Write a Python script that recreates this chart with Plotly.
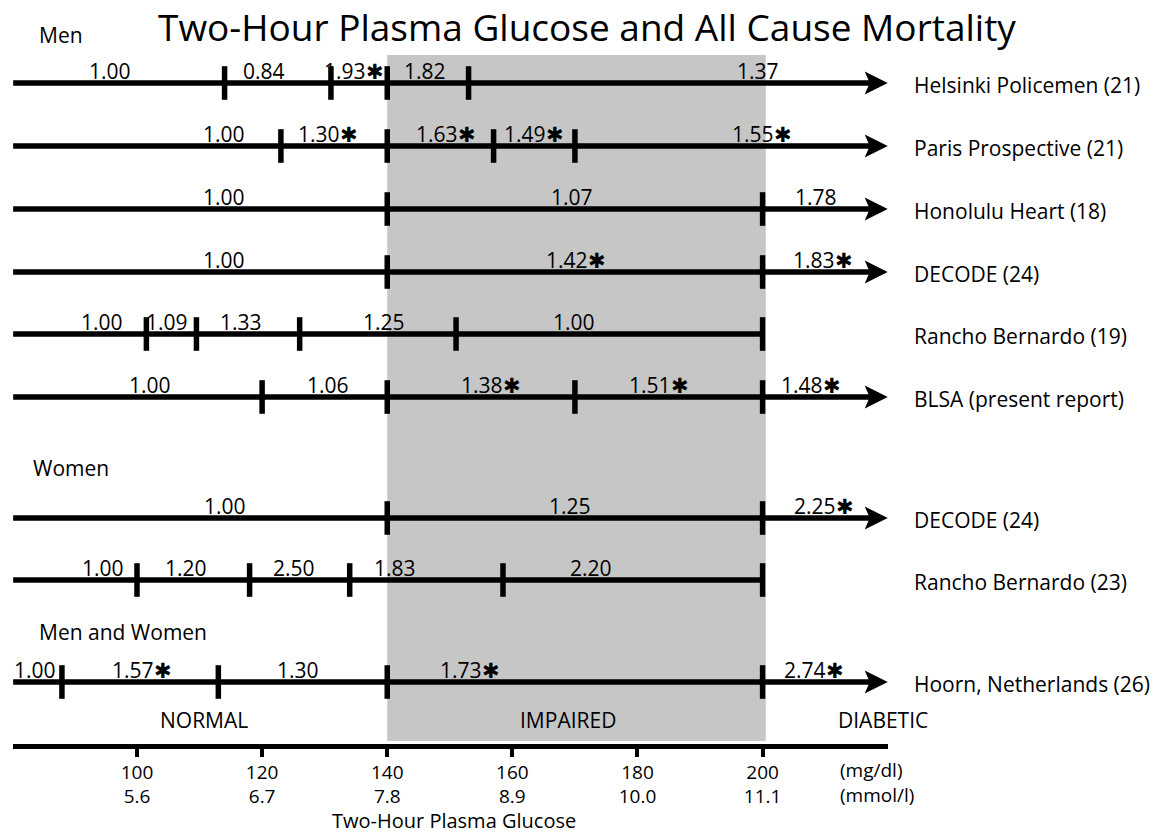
import plotly.graph_objects as go

# ---------------- data ----------------
studies = ["Helsinki Policemen (21)", "Paris Prospective (21)", "Honolulu Heart (18)",
           "DECODE (24)", "Rancho Bernardo (19)", "BLSA (present report)",
           "DECODE (24)", "Rancho Bernardo (23)", "Hoorn, Netherlands (26)"]

# cut points (mg/dl) between glucose categories
cuts_helsinki = [114, 131, 140, 153]
cuts_paris = [123, 140, 157, 170]
cuts_honolulu = [140, 200]
cuts_decode_m = [140, 200]
cuts_rancho_m = [101.5, 109.5, 126, 151, 200]
cuts_blsa = [120, 140, 170, 200]
cuts_decode_w = [140, 200]
cuts_rancho_w = [100, 118, 134, 158.5, 200]
cuts_hoorn = [88, 113, 140, 200]

# relative risks (asterisk = significant)
rr_helsinki = ["1.00", "0.84", "1.93*", "1.82", "1.37"]
rr_paris = ["1.00", "1.30*", "1.63*", "1.49*", "1.55*"]
rr_honolulu = ["1.00", "1.07", "1.78"]
rr_decode_m = ["1.00", "1.42*", "1.83*"]
rr_rancho_m = ["1.00", "1.09", "1.33", "1.25", "1.00"]
rr_blsa = ["1.00", "1.06", "1.38*", "1.51*", "1.48*"]
rr_decode_w = ["1.00", "1.25", "2.25*"]
rr_rancho_w = ["1.00", "1.20", "2.50", "1.83", "2.20"]
rr_hoorn = ["1.00", "1.57*", "1.30", "1.73*", "2.74*"]

# open-ended upper category (arrow) or closed at last cut point
open_ended = [True, True, True, True, False, True, True, False, True]

# glucose position (mg/dl) at which each risk value is written
lab_helsinki = [95.7, 120.3, 134.7, 146.0, 199.3]
lab_paris = [113.9, 130.5, 149.4, 163.5, 199.9]
lab_honolulu = [113.9, 169.5, 208.5]
lab_decode_m = [113.9, 170.1, 209.7]
lab_rancho_m = [94.4, 104.8, 116.6, 139.5, 169.9]
lab_blsa = [102.1, 130.5, 156.6, 183.4, 207.7]
lab_decode_w = [114.1, 169.2, 209.8]
lab_rancho_w = [94.6, 107.8, 125.1, 141.2, 172.6]
lab_hoorn = [83.7, 100.8, 125.7, 153.2, 208.2]

# axis ticks
tick_mgdl = [100, 120, 140, 160, 180, 200]
tick_mmol = ["5.6", "6.7", "7.8", "8.9", "10.0", "11.1"]
impaired_range = [140, 200.5]
categories = ["NORMAL", "IMPAIRED", "DIABETIC"]
category_pos = [110.7, 168.9, 219.3]
groups = ["Men", "Women", "Men and Women"]
group_pos = [84.0, 83.1, 84.0]

cuts_all = [cuts_helsinki, cuts_paris, cuts_honolulu, cuts_decode_m, cuts_rancho_m,
            cuts_blsa, cuts_decode_w, cuts_rancho_w, cuts_hoorn]
rr_all = [rr_helsinki, rr_paris, rr_honolulu, rr_decode_m, rr_rancho_m,
          rr_blsa, rr_decode_w, rr_rancho_w, rr_hoorn]
lab_all = [lab_helsinki, lab_paris, lab_honolulu, lab_decode_m, lab_rancho_m,
           lab_blsa, lab_decode_w, lab_rancho_w, lab_hoorn]

# ---------------- layout constants ----------------
W, H = 1161, 838
PX_PER_UNIT = 6.256
X0 = 100 - 137 / PX_PER_UNIT
X1 = X0 + W / PX_PER_UNIT
AXIS_START = 80.2
ARROW_TIP = 220.0
ROW_Y = [83, 146, 209, 272, 334, 397, 518, 580, 682]     # vertical row positions (px from top)
GROUP_Y = [35, 468, 632]
FONT = "Open Sans"
STAR = "\u2731"
LW = 5.5

fig = go.Figure()
shapes = []
annotations = []

# impaired band
shapes.append(dict(type="rect", xref="x", yref="y", x0=impaired_range[0], x1=impaired_range[1],
                   y0=55, y1=741, fillcolor="#c6c6c6", line=dict(width=0), layer="below"))

for i, name in enumerate(studies):
    y = ROW_Y[i]
    cuts = cuts_all[i]
    end = ARROW_TIP - 2.5 if open_ended[i] else cuts[-1]
    fig.add_trace(go.Scatter(x=[AXIS_START, end], y=[y, y], mode="lines",
                             line=dict(color="black", width=LW), hoverinfo="skip"))
    fig.add_trace(go.Scatter(x=cuts, y=[y] * len(cuts), mode="markers",
                             marker=dict(symbol="line-ns", size=24,
                                         line=dict(color="black", width=LW)),
                             hoverinfo="skip"))
    if open_ended[i]:
        shapes.append(dict(type="path", xref="x", yref="y", xsizemode="pixel", ysizemode="pixel",
                           xanchor=ARROW_TIP, yanchor=y,
                           path="M0,0 L-23,11.5 L-18,0 L-23,-11.5 Z",
                           fillcolor="black", line=dict(width=0)))
    for txt, xp in zip(rr_all[i], lab_all[i]):
        t = txt.replace("*", STAR)
        annotations.append(dict(x=xp, y=y, xref="x", yref="y", text=t, showarrow=False,
                                xanchor="center", yanchor="bottom", yshift=-4,
                                font=dict(family=FONT, size=21, color="black")))
    annotations.append(dict(x=223.9, y=y, xref="x", yref="y", text=name, showarrow=False,
                            xanchor="left", yanchor="middle", yshift=-2,
                            font=dict(family=FONT, size=21, color="black")))

for g, gx, gy in zip(groups, group_pos, GROUP_Y):
    annotations.append(dict(x=gx, y=gy, xref="x", yref="y", text=g, showarrow=False,
                            xanchor="left", yanchor="middle",
                            font=dict(family=FONT, size=21, color="black")))

for c, cx in zip(categories, category_pos):
    annotations.append(dict(x=cx, y=720, xref="x", yref="y", text=c, showarrow=False,
                            xanchor="center", yanchor="middle",
                            font=dict(family=FONT, size=21, color="black")))

annotations.append(dict(x=587 / W, y=26, xref="paper", yref="y",
                        text="Two-Hour Plasma Glucose and All Cause Mortality", showarrow=False,
                        xanchor="center", yanchor="middle",
                        font=dict(family=FONT, size=37, color="black")))
annotations.append(dict(x=212.1, y=770, xref="x", yref="y", text="(mg/dl)", showarrow=False,
                        xanchor="left", yanchor="middle", font=dict(family=FONT, size=19, color="black")))
annotations.append(dict(x=212.1, y=795, xref="x", yref="y", text="(mmol/l)", showarrow=False,
                        xanchor="left", yanchor="middle", font=dict(family=FONT, size=19, color="black")))
annotations.append(dict(x=150.6, y=820, xref="x", yref="y", text="Two-Hour Plasma Glucose",
                        showarrow=False, xanchor="center", yanchor="middle",
                        font=dict(family=FONT, size=20, color="black")))

dom = [(AXIS_START - X0) / (X1 - X0), (ARROW_TIP - X0) / (X1 - X0)]
axis_y = 1 - 745.5 / H

fig.update_layout(
    width=W, height=H, margin=dict(l=0, r=0, t=0, b=0),
    paper_bgcolor="white", plot_bgcolor="rgba(0,0,0,0)", showlegend=False,
    xaxis=dict(range=[X0, X1], domain=[0, 1], visible=False, fixedrange=True),
    yaxis=dict(range=[H, 0], domain=[0, 1], visible=False, fixedrange=True),
    xaxis2=dict(range=[AXIS_START, ARROW_TIP], domain=dom, anchor="free", position=axis_y,
                showline=True, linewidth=5, linecolor="black", ticks="outside",
                ticklen=8, tickwidth=4, tickcolor="black", tickvals=tick_mgdl,
                ticktext=[str(v) for v in tick_mgdl], showgrid=False, zeroline=False,
                tickfont=dict(family=FONT, size=19, color="black"), fixedrange=True),
    xaxis3=dict(range=[AXIS_START, ARROW_TIP], domain=dom, anchor="free",
                position=1 - 783 / H, showline=False, ticks="",
                tickvals=tick_mgdl, ticktext=tick_mmol, showgrid=False, zeroline=False,
                tickfont=dict(family=FONT, size=19, color="black"), fixedrange=True),
    shapes=shapes, annotations=annotations,
)
# invisible traces so the extra axes are drawn
fig.add_trace(go.Scatter(x=[AXIS_START], y=[H + 50], xaxis="x2", mode="markers",
                         marker=dict(opacity=0), hoverinfo="skip"))
fig.add_trace(go.Scatter(x=[AXIS_START], y=[H + 50], xaxis="x3", mode="markers",
                         marker=dict(opacity=0), hoverinfo="skip"))

fig.write_html("out.html", config={"displayModeBar": False},
               post_script="document.body.style.margin='0';document.body.style.overflow='hidden';")
